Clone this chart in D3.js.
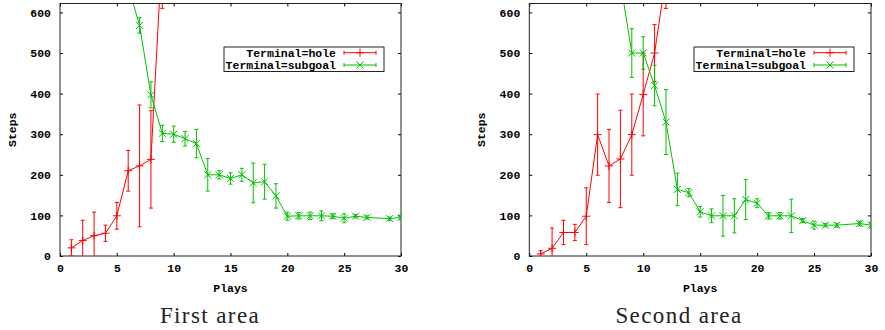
<!DOCTYPE html>
<html><head><meta charset="utf-8">
<script src="https://cdn.jsdelivr.net/npm/d3@7"></script>
<style>
body{margin:0;background:#fff;}
svg{display:block;}
.tick text{font-family:"Liberation Mono",monospace;font-weight:bold;font-size:11.5px;fill:#000;}
.lbl{font-family:"Liberation Mono",monospace;font-weight:bold;font-size:11.5px;fill:#000;}
.cap{font-family:"Liberation Serif",serif;font-size:23px;fill:#222;letter-spacing:1.4px;}
</style></head>
<body>
<script>
// ---- data ----
const xTicks = [0, 5, 10, 15, 20, 25, 30];
const yTicks = [0, 100, 200, 300, 400, 500, 600];
const seriesNames = ["Terminal=hole", "Terminal=subgoal"];
const captions = ["First area", "Second area"];
const xLabel = "Plays", yLabel = "Steps";

// First area
const holeX1 = [1, 2, 3, 4, 5, 6, 7, 8, 9];
const holeY1 = [20, 38, 50, 56, 99, 210, 222, 238, 760];
const holeE1 = [20, 50, 58, 20, 33, 50, 150, 120, 150];
const subX1 = [6, 7, 8, 9, 10, 11, 12, 13, 14, 15, 16, 17, 18, 19, 20, 21, 22, 23, 24, 25, 26, 27, 29, 30];
const subY1 = [665, 568, 397, 302, 300, 289, 277, 200, 200, 191, 200, 180, 183, 148, 98, 99, 99, 99, 98, 93, 98, 95, 92, 95];
const subE1 = [40, 19, 32, 20, 20, 18, 35, 40, 10, 14, 16, 49, 43, 30, 10, 8, 9, 12, 6, 11, 4, 4, 4, 5];

// Second area
const holeX2 = [1, 2, 3, 4, 5, 6, 7, 8, 9, 10, 11, 12];
const holeY2 = [5, 19, 58, 58, 98, 299, 222, 239, 299, 398, 500, 690];
const holeE2 = [8, 50, 30, 20, 70, 100, 90, 120, 100, 102, 70, 80];
const subX2 = [8, 9, 10, 11, 12, 13, 14, 15, 16, 17, 18, 19, 20, 21, 22, 23, 24, 25, 26, 27, 29, 30];
const subY2 = [676, 500, 500, 420, 330, 164, 156, 109, 99, 99, 99, 139, 130, 99, 99, 99, 87, 76, 76, 76, 80, 76];
const subE2 = [50, 60, 40, 50, 80, 40, 10, 13, 17, 50, 42, 49, 11, 8, 8, 41, 5, 10, 4, 5, 6, 7];

// ---- drawing ----
const W = 885, H = 330;
const colors = ["#ff0000", "#00c000"];
const svg = d3.select("body").append("svg").attr("width", W).attr("height", H);
svg.append("rect").attr("width", W).attr("height", H).attr("fill", "#fff");

const panels = [
  {x0: 60, x1: 401, ylx: 16, capX: 210,
   series: [[holeX1, holeY1, holeE1], [subX1, subY1, subE1]]},
  {x0: 529.3, x1: 871, ylx: 485, capX: 679,
   series: [[holeX2, holeY2, holeE2], [subX2, subY2, subE2]]}
];
const yTop = 3.5, yBot = 256;

const markers = [
  "M-4,0H4M0,-4V4",
  "M-3.5,-3.5L3.5,3.5M-3.5,3.5L3.5,-3.5"
];

panels.forEach((p, pi) => {
  const x = d3.scaleLinear().domain([0, 30]).range([p.x0, p.x1]);
  const y = d3.scaleLinear().domain([0, 622]).range([yBot, yTop]);
  const g = svg.append("g");
  const clipId = "clip" + pi;
  g.append("clipPath").attr("id", clipId).append("rect")
    .attr("x", p.x0).attr("y", yTop).attr("width", p.x1 - p.x0).attr("height", yBot - yTop);

  // axes
  const ax = [
    g.append("g").attr("transform", `translate(0,${yBot})`)
      .call(d3.axisBottom(x).tickValues(xTicks).tickSizeInner(-3).tickSizeOuter(0).tickPadding(8).tickFormat(d3.format("d"))),
    g.append("g").attr("transform", `translate(0,${yTop})`)
      .call(d3.axisTop(x).tickValues(xTicks).tickSizeInner(-3).tickSizeOuter(0).tickFormat("")),
    g.append("g").attr("transform", `translate(${p.x0},0)`)
      .call(d3.axisLeft(y).tickValues(yTicks).tickSizeInner(-3).tickSizeOuter(0).tickPadding(9).tickFormat(d3.format("d"))),
    g.append("g").attr("transform", `translate(${p.x1},0)`)
      .call(d3.axisRight(y).tickValues(yTicks).tickSizeInner(-3).tickSizeOuter(0).tickFormat(""))
  ];
  ax.forEach(a => {
    a.select(".domain").remove();
    a.attr("font-family", null).attr("font-size", null);
    a.selectAll(".tick line").attr("stroke", "#000");
  });
  g.append("rect").attr("x", p.x0).attr("y", yTop).attr("width", p.x1 - p.x0).attr("height", yBot - yTop)
    .attr("fill", "none").attr("stroke", "#222").attr("stroke-width", 1);

  // series
  const plot = g.append("g").attr("clip-path", `url(#${clipId})`);
  p.series.forEach((s, si) => {
    const [xs, ys, es] = s;
    const pts = xs.map((d, i) => ({x: d, y: ys[i], e: es[i]}));
    const c = colors[si];
    const sg = plot.append("g").attr("stroke", c).attr("fill", "none").attr("stroke-width", 1);
    sg.append("path").datum(pts)
      .attr("d", d3.line().x(d => x(d.x)).y(d => y(d.y)));
    const eb = sg.selectAll(".eb").data(pts).join("g");
    eb.append("line").attr("x1", d => x(d.x)).attr("x2", d => x(d.x))
      .attr("y1", d => y(d.y - d.e)).attr("y2", d => y(d.y + d.e));
    eb.append("line").attr("x1", d => x(d.x) - 2).attr("x2", d => x(d.x) + 2)
      .attr("y1", d => y(d.y - d.e)).attr("y2", d => y(d.y - d.e));
    eb.append("line").attr("x1", d => x(d.x) - 2).attr("x2", d => x(d.x) + 2)
      .attr("y1", d => y(d.y + d.e)).attr("y2", d => y(d.y + d.e));
    eb.append("path").attr("d", markers[si])
      .attr("transform", d => `translate(${x(d.x)},${y(d.y)})`);
  });

  // legend
  const lg = g.append("g");
  const bxR = p.x1 - 17, bxL = p.x1 - 177;
  lg.append("rect").attr("x", bxL).attr("y", 47).attr("width", bxR - bxL).attr("height", 24.5)
    .attr("fill", "#fff").attr("stroke", "#222").attr("stroke-width", 1);
  seriesNames.forEach((nm, si) => {
    const cy = 52.7 + si * 12.3;
    lg.append("text").attr("class", "lbl").attr("x", p.x1 - 65).attr("y", cy + 3.9)
      .attr("text-anchor", "end").text(nm);
    const sx1 = p.x1 - 57, sx2 = p.x1 - 25, mx = (sx1 + sx2) / 2;
    const sg = lg.append("g").attr("stroke", colors[si]).attr("stroke-width", 1).attr("fill", "none");
    sg.append("line").attr("x1", sx1).attr("x2", sx2).attr("y1", cy).attr("y2", cy);
    sg.append("line").attr("x1", sx1).attr("x2", sx1).attr("y1", cy - 2).attr("y2", cy + 2);
    sg.append("line").attr("x1", sx2).attr("x2", sx2).attr("y1", cy - 2).attr("y2", cy + 2);
    sg.append("path").attr("d", markers[si]).attr("transform", `translate(${mx},${cy})`);
  });

  // axis labels
  g.append("text").attr("class", "lbl").attr("x", (p.x0 + p.x1) / 2).attr("y", 291.5)
    .attr("text-anchor", "middle").text(xLabel);
  g.append("text").attr("class", "lbl").attr("transform", `translate(${p.ylx},${(yTop + yBot) / 2}) rotate(-90)`)
    .attr("text-anchor", "middle").text(yLabel);
  // caption
  g.append("text").attr("class", "cap").attr("x", p.capX).attr("y", 323.3)
    .attr("text-anchor", "middle").text(captions[pi]);
});
</script>
</body></html>
